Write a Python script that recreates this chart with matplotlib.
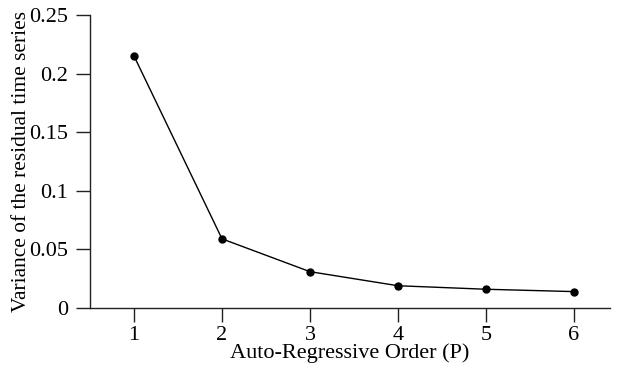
import matplotlib.pyplot as plt

plt.rcParams['font.family'] = ['Liberation Serif', 'DejaVu Serif']

# AR order vs. residual variance
orders = [1, 2, 3, 4, 5, 6]
variance = [0.215, 0.059, 0.031, 0.019, 0.016, 0.014]

fig = plt.figure(figsize=(6.17, 3.71), dpi=100)
ax = fig.add_axes([0.1459, 0.1698, 0.8428, 0.7898])

ax.plot(orders, variance, color='black', lw=1.0, marker='o', ms=5)

ax.set_xlim(0.5, 6.41)
ax.set_ylim(0, 0.25)
ax.set_xticks(orders)
ax.set_yticks([0, 0.05, 0.1, 0.15, 0.2, 0.25])
ax.set_yticklabels(['0', '0.05', '0.1', '0.15', '0.2', '0.25'])

for s in ['top', 'right']:
    ax.spines[s].set_visible(False)
for s in ['left', 'bottom']:
    ax.spines[s].set_linewidth(1.0)
    ax.spines[s].set_color('#222222')

ax.tick_params(axis='both', direction='out', length=10, width=1.0,
               color='#222222', labelsize=16)
ax.tick_params(axis='y', pad=6)
ax.tick_params(axis='x', pad=3)

ax.set_xlabel('Auto-Regressive Order (P)', fontsize=16, labelpad=-1)
ax.set_ylabel('Variance of the residual time series', fontsize=15.4)
ax.yaxis.set_label_coords(-0.113, 0.5)

fig.savefig('out.png', dpi=100)
